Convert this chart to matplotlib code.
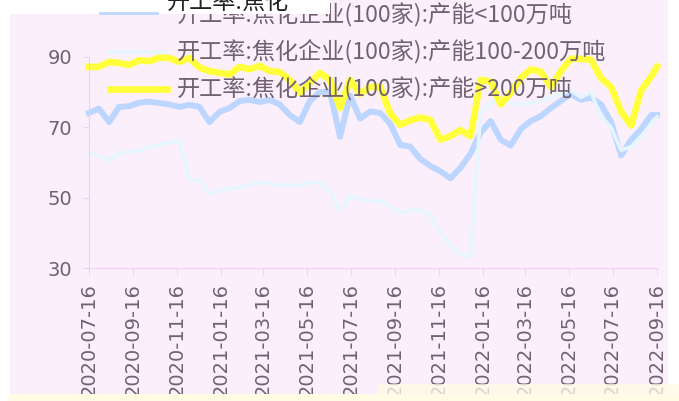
"""
Coking plant utilisation by capacity class (weekly, 2020-07 .. 2022-09)
"""
import matplotlib
matplotlib.use('Agg')
import matplotlib.pyplot as plt
from matplotlib.lines import Line2D
from matplotlib.patches import Rectangle
from matplotlib.transforms import Bbox, TransformedBbox
import pandas as pd

plt.rcParams['font.family'] = ['Noto Sans CJK SC', 'DejaVu Sans']

W, H = 679, 401

# readings every two weeks, last point is the final week
dates = list(pd.date_range('2020-07-16', periods=57, freq='14D')) + [pd.Timestamp('2022-09-16')]

# 产能<100万吨
small = [74.1, 75.3, 71.5, 75.8, 76.0, 77.0, 77.3, 76.9, 76.5, 75.8,
         76.4, 75.8, 71.5, 74.4, 75.5, 77.5, 77.8, 77.2, 77.8, 76.5,
         73.5, 71.5, 77.5, 80.0, 80.2, 67.3, 79.0, 72.5, 74.5, 74.1,
         71.0, 65.0, 64.5, 61.0, 59.0, 57.5, 55.5, 58.5, 62.5, 68.5,
         71.8, 66.5, 64.8, 69.5, 71.8, 73.2, 75.5, 77.5, 79.5, 77.8,
         78.5, 76.5, 71.5, 62.0, 66.5, 69.5, 73.5, 73.5]

# 产能100-200万吨
mid = [62.7, 61.8, 60.7, 62.5, 63.0, 63.2, 64.4, 65.0, 65.8, 66.0,
       55.0, 55.0, 51.0, 52.2, 52.6, 52.8, 53.6, 54.4, 54.0, 53.6,
       53.4, 53.5, 54.4, 54.4, 51.8, 46.5, 50.6, 49.5, 49.2, 49.0,
       47.5, 45.6, 46.5, 46.5, 45.0, 40.0, 36.5, 34.0, 33.1, 74.0,
       77.0, 78.5, 77.0, 76.5, 77.0, 77.5, 78.5, 79.5, 80.5, 78.5,
       80.0, 73.0, 70.0, 63.5, 64.5, 67.5, 71.0, 73.0]

# 产能>200万吨
large = [87.2, 87.2, 88.6, 88.3, 87.7, 89.1, 88.8, 89.8, 89.7, 88.6,
         89.7, 87.0, 86.0, 85.5, 85.0, 87.2, 86.5, 87.5, 86.0, 85.7,
         83.5, 79.8, 82.6, 85.5, 83.5, 75.5, 83.5, 79.5, 81.5, 81.5,
         74.0, 70.7, 72.0, 72.8, 72.1, 66.5, 67.5, 69.2, 67.5, 83.5,
         83.0, 76.5, 79.8, 84.0, 86.5, 85.8, 81.5, 86.0, 89.5, 89.5,
         89.2, 84.0, 81.5, 74.5, 70.5, 80.5, 84.5, 87.2]

labels = ['开工率:焦化企业(100家):产能<100万吨',
          '开工率:焦化企业(100家):产能100-200万吨',
          '开工率:焦化企业(100家):产能>200万吨']
colors = ['#BDD6FF', '#E6F6FF', '#FFFF3C']
widths = [4.3, 2.6, 4.8]

tick_dates = pd.to_datetime(['2020-07-16', '2020-09-16', '2020-11-16', '2021-01-16',
                             '2021-03-16', '2021-05-16', '2021-07-16', '2021-09-16',
                             '2021-11-16', '2022-01-16', '2022-03-16', '2022-05-16',
                             '2022-07-16', '2022-09-16'])
yticks = [30, 50, 70, 90]

bg = '#FCEFFC'
spine_c = '#F0D0F0'
text_c = '#716171'

fig = plt.figure(figsize=(W / 100, H / 100), dpi=100, facecolor=bg)
ax = fig.add_axes([89 / W, 1 - 268 / H, (657 - 89) / W, (268 - 57) / H])
ax.patch.set_visible(False)

for series, c, lw in zip([small, mid, large], colors, widths):
    ax.plot(dates, series, color=c, linewidth=lw, solid_joinstyle='round', clip_on=False)

ax.set_xlim(tick_dates[0], tick_dates[-1])
ax.set_ylim(30, 90)
ax.set_xticks(tick_dates)
ax.set_xticklabels([d.strftime('%Y-%m-%d') for d in tick_dates], rotation=90,
                   family='DejaVu Sans', fontsize=14, color=text_c, va='top')
ax.set_yticks(yticks)
ax.set_yticklabels([str(v) for v in yticks], family='DejaVu Sans', fontsize=14, color=text_c)
ax.tick_params(axis='y', length=4, color=spine_c, pad=8)
ax.tick_params(axis='x', length=5, color=spine_c, pad=6)
for s in ['top', 'right']:
    ax.spines[s].set_visible(False)
for s in ['left', 'bottom']:
    ax.spines[s].set_color(spine_c)


def fx(x):
    return x / W


def fy(y):
    return 1 - y / H


# legend drawn by hand (no frame, over the lines)
leg_y = [15, 52, 89]
for i, (lab, c, lw) in enumerate(zip(labels, colors, widths)):
    x0 = 110 if i else 100
    ly = 13 if i == 0 else leg_y[i]
    fig.add_artist(Line2D([fx(x0), fx(x0 + 57)], [fy(ly), fy(ly)], color=c,
                          linewidth=2 if i == 0 else lw, zorder=4))
    fig.text(fx(177), fy(leg_y[i]), lab, fontsize=16.7, fontweight='light',
             color=text_c, va='center', ha='left', zorder=2)

# white / pale yellow margins of the original screenshot
fig.add_artist(Rectangle((0, 0), fx(10), 1, transform=fig.transFigure,
                         facecolor='white', edgecolor='none', zorder=3))
fig.add_artist(Rectangle((fx(668), 0), 1 - fx(668), 1, transform=fig.transFigure,
                         facecolor='white', edgecolor='none', zorder=3))
fig.add_artist(Rectangle((0, fy(14)), fx(330), 1 - fy(14), transform=fig.transFigure,
                         facecolor='white', edgecolor='none', zorder=3))
fig.add_artist(Rectangle((fx(378), fy(394)), 1 - fx(378), fy(384) - fy(394),
                         transform=fig.transFigure, facecolor='#FFFCE6', alpha=0.75,
                         edgecolor='none', zorder=3))
fig.add_artist(Rectangle((fx(8), 0), 1 - fx(8), fy(394), transform=fig.transFigure,
                         facecolor='#FFFCE6', edgecolor='none', zorder=3))

# ghost copy of the first legend label in the white strip
ghost = fig.text(fx(167), fy(2), labels[0], fontsize=16.7, color='#222222',
                 va='center', ha='left', zorder=5)
ghost.set_clip_box(TransformedBbox(Bbox([[fx(160), fy(14)], [fx(290), 1]]), fig.transFigure))
ghost.set_clip_on(True)

fig.savefig('out.png', dpi=100, facecolor=bg)
